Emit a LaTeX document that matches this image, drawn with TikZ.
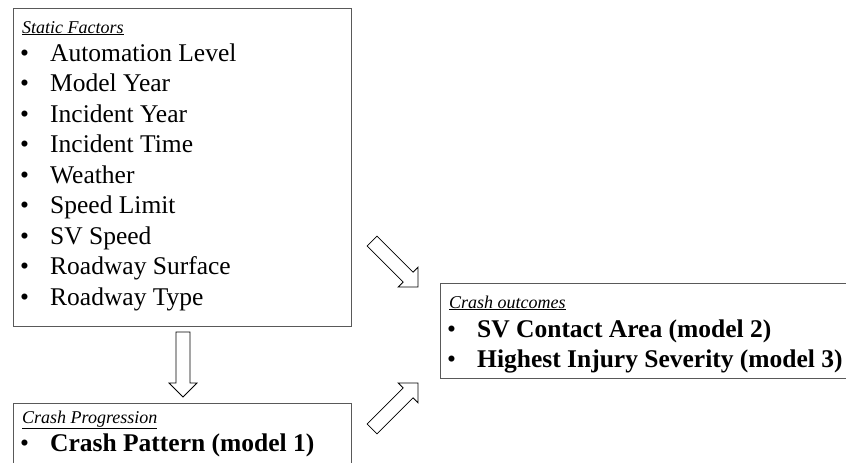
\documentclass[tikz,border=0pt]{standalone}
\usepackage{fontspec}
\setmainfont{Liberation Serif}
\begin{document}
\begin{tikzpicture}[x=1pt,y=-1pt,
  box/.style={draw=black!65, line width=1.2pt, rectangle, inner sep=0pt, anchor=north west},
  head/.style={inner sep=0pt, anchor=base west, font=\fontsize{18}{21}\selectfont\itshape},
  item/.style={inner sep=0pt, anchor=base west, font=\fontsize{25.5}{30}\selectfont},
  bitem/.style={item, font=\fontsize{25.5}{30}\selectfont\bfseries},
  arrowline/.style={draw=black, line width=0.8pt, line join=miter},
  blockarrow/.pic={\draw[arrowline] (-65,-7) -- (-14,-7) -- (-14,-14) -- (0,0) -- (-14,14) -- (-14,7) -- (-65,7) -- cycle;}
]
\useasboundingbox (0,0) rectangle (846,463);

% boxes
\node[box, minimum width=338pt, minimum height=318pt] (static) at (13,8) {};
\node[box, minimum width=420pt, minimum height=95pt] (outcome) at (440,283) {};
\node[box, minimum width=338pt, minimum height=80pt] (prog) at (13,403) {};

% static factors
\node[head] (sh) at (22,33) {\underline{Static Factors}};
\foreach \t [count=\i from 0] in {Automation Level,Model Year,Incident Year,Incident Time,Weather,Speed Limit,SV Speed,Roadway Surface,Roadway Type}{
  \node[item] (sb\i) at (20,61+30.5*\i) {•};
  \node[item] (st\i) at (50,61+30.5*\i) {\t};
}

% crash outcomes
\node[head] (oh) at (449,308) {\underline{Crash outcomes}};
\node[item] (ob1) at (447,337) {•};
\node[bitem] (ot1) at (477,337) {SV Contact Area (model 2)};
\node[item] (ob2) at (447,367) {•};
\node[bitem] (ot2) at (477,367) {Highest Injury Severity (model 3)};

% crash progression
\node[head] (ph) at (22,423) {\underline{Crash Progression}};
\node[item] (pb1) at (20,451) {•};
\node[bitem] (pt1) at (50,451) {Crash Pattern (model 1)};

% block arrows
\coordinate (a1) at (183,397);
\coordinate (a2) at (418,287);
\coordinate (a3) at (418,383);
\pic[rotate=-90] at (a1) {blockarrow};
\pic[rotate=-45] at (a2) {blockarrow};
\pic[rotate=45] at (a3) {blockarrow};
\end{tikzpicture}
\end{document}
